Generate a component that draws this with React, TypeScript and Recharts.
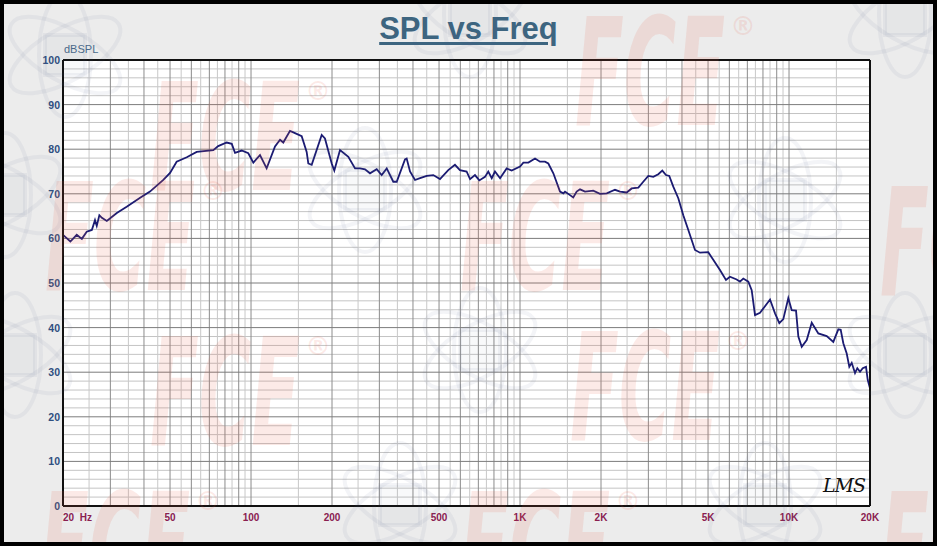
import React from 'react'
import { LineChart, Line, XAxis, YAxis, ReferenceLine, ReferenceArea } from 'recharts'

// ── data ────────────────────────────────────────────────────────────────────

const FREQ_HZ = [
  20, 21.3, 22.5, 23.5, 24.5, 25.6, 26.3, 26.7, 27.3, 27.9, 29.1, 31.7, 34.5, 38.7, 42.1, 47.2,
  50, 52.9, 57.7, 62.8, 72.4, 75.5, 81.2, 84.8, 87.2, 92.3, 97.7, 102, 108, 114.3, 122.8, 128.2,
  131.8, 139.6, 145.7, 154.3, 161, 163.3, 168.1, 183.1, 188.3, 199.5, 204, 214.2, 230, 243.6,
  254.2, 265.3, 276.9, 293.2, 306, 319.5, 338, 348, 373.6, 379, 390, 407, 425, 450, 476, 504,
  541, 573, 598, 633, 652, 680, 706, 741, 762, 785, 807, 843, 892, 931, 1000, 1029, 1074, 1137,
  1187, 1238, 1274, 1330, 1408, 1449, 1470, 1534, 1577, 1624, 1671, 1744, 1872, 1983, 2100,
  2255, 2354, 2492, 2601, 2753, 2872, 2998, 3130, 3266, 3380, 3488, 3588, 3713, 3876, 4045,
  4223, 4471, 4667, 5009, 5228, 5537, 5829, 6032, 6389, 6572, 6761, 7057, 7265, 7474, 7801,
  8500, 8871, 9203, 9523, 9940, 10234, 10618, 10830, 11150, 11637, 12146, 12851, 13806, 14610,
  15249, 15565, 15916, 16385, 16755, 17102, 17592, 17943, 18362, 18791, 19329, 19611, 20000,
]

const SPL_DB = [
  60.8, 59.3, 60.8, 59.9, 61.5, 61.9, 64.1, 62.8, 65.2, 64.6, 63.9, 65.7, 67.1, 69.1, 70.5, 73.1,
  74.7, 77.2, 78.2, 79.4, 79.8, 80.7, 81.5, 81.2, 79.2, 79.7, 79.1, 77.0, 78.7, 75.7, 80.6, 82.1,
  81.5, 84.1, 83.6, 82.9, 79.4, 76.8, 76.5, 83.2, 82.4, 76.8, 75.2, 79.8, 78.3, 75.7,
  75.7, 75.5, 74.6, 75.5, 74.2, 75.7, 72.7, 72.7, 77.7, 77.9, 75.0, 73.1, 73.5, 74.0, 74.2, 73.3,
  75.3, 76.5, 75.3, 75.0, 73.3, 74.2, 73.0, 73.8, 75.0, 73.5, 75.0, 73.5, 75.7, 75.2, 76.1, 77.0, 77.0, 77.9,
  77.2, 77.2, 76.8, 74.6, 70.5, 70.1, 70.5, 69.7, 69.2, 70.5, 71.0, 70.5, 70.7, 70.0, 70.1,
  70.9, 70.5, 70.3, 71.2, 71.4, 72.7, 74.0, 73.8, 74.4, 75.2, 74.2, 74.0, 71.6, 69.0, 65.2,
  61.9, 57.4, 56.8, 56.9, 55.2, 52.9, 50.7, 51.4, 50.8, 50.3, 51.0, 50.3, 48.4, 42.8, 43.3,
  46.3, 43.2, 41.0, 41.9, 46.6, 43.9, 43.8, 38.0, 35.7, 37.2, 41.1, 38.7, 38.1, 36.8,
  39.6, 39.5, 36.5, 34.2, 31.2, 32.1, 29.8, 30.9, 30.1, 30.9, 31.2, 28.3, 26.4,
]

const X_TICKS = [20, 50, 100, 200, 500, 1000, 2000, 5000, 10000, 20000]
const X_TICK_LABELS = ['20  Hz', '50', '100', '200', '500', '1K', '2K', '5K', '10K', '20K']
const Y_TICKS = [0, 10, 20, 30, 40, 50, 60, 70, 80, 90, 100]

// grid: half steps inside each decade, darker on whole multiples
const GRID_STEPS = [1, 1.5, 2, 2.5, 3, 3.5, 4, 4.5, 5, 5.5, 6, 6.5, 7, 7.5, 8, 8.5, 9, 9.5]
const DECADES = [10, 100, 1000, 10000]
const Y_MINOR = [2, 4, 6, 8, 12, 14, 16, 18, 22, 24, 26, 28, 32, 34, 36, 38, 42, 44, 46, 48, 52, 54, 56, 58, 62, 64, 66, 68, 72, 74, 76, 78, 82, 84, 86, 88, 92, 94, 96, 98]

const chartData = FREQ_HZ.map((f, i) => ({ f, spl: SPL_DB[i] }))

const vGrid = DECADES.flatMap((d) =>
  GRID_STEPS.map((s) => ({ f: s * d, major: Number.isInteger(s) }))
).filter((g) => g.f > 20 && g.f < 20000)

// ── ticks ───────────────────────────────────────────────────────────────────

function FreqTick(props: any) {
  const { x, payload } = props
  const i = X_TICKS.indexOf(payload.value)
  return (
    <text
      x={x}
      y={521}
      textAnchor={i === 0 ? 'start' : 'middle'}
      fill="#8a2050"
      fontSize={10}
      fontWeight="bold"
      fontFamily="Arial, 'Liberation Sans', sans-serif"
      style={{ whiteSpace: 'pre' }}
    >
      {X_TICK_LABELS[i]}
    </text>
  )
}

function SplTick(props: any) {
  const { y, payload } = props
  return (
    <text
      x={60}
      y={y + 4}
      textAnchor="end"
      fill="#2f4f80"
      fontSize={10.5}
      fontWeight="bold"
      fontFamily="Arial, 'Liberation Sans', sans-serif"
    >
      {payload.value}
    </text>
  )
}

// ── watermark ───────────────────────────────────────────────────────────────

const FCE_MARKS = [
  [150, 190], [575, 125], [45, 290], [460, 290], [880, 295],
  [150, 445], [570, 440], [40, 600], [460, 600], [880, 600],
]
const ATOMS = [
  [65, 55], [470, 15], [905, 15], [365, 190], [785, 200], [5, 195],
  [480, 350], [15, 355], [905, 355], [400, 505], [765, 505],
]

function Watermark() {
  return (
    <svg
      width={937}
      height={546}
      style={{ position: 'absolute', left: 0, top: 0, pointerEvents: 'none' }}
    >
      {ATOMS.map(([cx, cy], i) => (
        <g key={i} stroke="rgba(80,95,140,0.07)" strokeWidth={4} fill="none">
          <ellipse cx={cx} cy={cy} rx={62} ry={26} transform={`rotate(30 ${cx} ${cy})`} />
          <ellipse cx={cx} cy={cy} rx={62} ry={26} transform={`rotate(-30 ${cx} ${cy})`} />
          <ellipse cx={cx} cy={cy} rx={62} ry={26} transform={`rotate(90 ${cx} ${cy})`} />
          <rect x={cx - 20} y={cy - 20} width={40} height={40} fill="rgba(80,95,140,0.04)" />
        </g>
      ))}
      {FCE_MARKS.map(([x, y], i) => (
        <g key={i} fill="rgba(235,90,70,0.13)" fontFamily="'DejaVu Sans', Arial, sans-serif" fontWeight="bold">
          <text x={x} y={y} fontSize={150} fontStyle="italic" textLength={150} lengthAdjust="spacingAndGlyphs">
            FCE
          </text>
          <text x={x + 155} y={y - 90} fontSize={26}>
            ®
          </text>
        </g>
      ))}
    </svg>
  )
}

// ── App ─────────────────────────────────────────────────────────────────────

export default function App() {
  return (
    <div
      style={{
        position: 'absolute',
        left: 0,
        top: 0,
        width: 937,
        height: 546,
        background: '#ececec',
        overflow: 'hidden',
        fontFamily: "Arial, 'Liberation Sans', sans-serif",
      }}
    >
      <div
        style={{
          position: 'absolute',
          left: 0,
          right: 0,
          top: 11,
          textAlign: 'center',
          fontSize: 31,
          fontWeight: 'bold',
          color: '#3d6580',
          textDecoration: 'underline',
          textDecorationThickness: 3,
          textUnderlineOffset: 3,
        }}
      >
        SPL vs Freq
      </div>
      <div style={{ position: 'absolute', left: 64, top: 43, fontSize: 11, color: '#4a6a8a' }}>dBSPL</div>

      <div style={{ position: 'absolute', left: 0, top: 0 }}>
        <LineChart width={937} height={546} data={chartData} margin={{ top: 60, right: 67, bottom: 20, left: 23 }}>
          <XAxis
            dataKey="f"
            type="number"
            scale="log"
            domain={[20, 20000]}
            ticks={X_TICKS}
            allowDataOverflow
            axisLine={false}
            tickLine={false}
            tick={<FreqTick />}
            height={20}
            interval={0}
          />
          <YAxis
            type="number"
            domain={[0, 100]}
            ticks={Y_TICKS}
            axisLine={false}
            tickLine={false}
            tick={<SplTick />}
            width={40}
            interval={0}
          />
          <ReferenceArea x1={20} x2={20000} y1={0} y2={100} fill="#ffffff" fillOpacity={1} stroke="none" />
          {Y_MINOR.map((v) => (
            <ReferenceLine key={`h${v}`} y={v} stroke="#c4c4c4" strokeWidth={1} />
          ))}
          {vGrid.map((g) => (
            <ReferenceLine key={`v${g.f}`} x={g.f} stroke={g.major ? '#8c8c8c' : '#c8c8c8'} strokeWidth={1} />
          ))}
          {Y_TICKS.slice(1, -1).map((v) => (
            <ReferenceLine key={`H${v}`} y={v} stroke="#7c7c7c" strokeWidth={1} />
          ))}
          <Line
            dataKey="spl"
            type="linear"
            stroke="#1b1b72"
            strokeWidth={1.8}
            dot={false}
            isAnimationActive={false}
          />
          <ReferenceLine x={20} stroke="#111" strokeWidth={2} />
          <ReferenceLine x={20000} stroke="#111" strokeWidth={2} />
          <ReferenceLine y={0} stroke="#111" strokeWidth={2} />
          <ReferenceLine y={100} stroke="#111" strokeWidth={2} />
        </LineChart>
      </div>

      <div
        style={{
          position: 'absolute',
          left: 823,
          top: 474,
          fontSize: 19,
          fontStyle: 'italic',
          fontFamily: "'DejaVu Serif', serif",
          color: '#111',
          letterSpacing: -1,
        }}
      >
        LMS
      </div>

      <Watermark />
      <div
        style={{
          position: 'absolute',
          left: 0,
          top: 0,
          width: 937,
          height: 546,
          boxSizing: 'border-box',
          border: '4px solid #000',
          pointerEvents: 'none',
        }}
      />
    </div>
  )
}
